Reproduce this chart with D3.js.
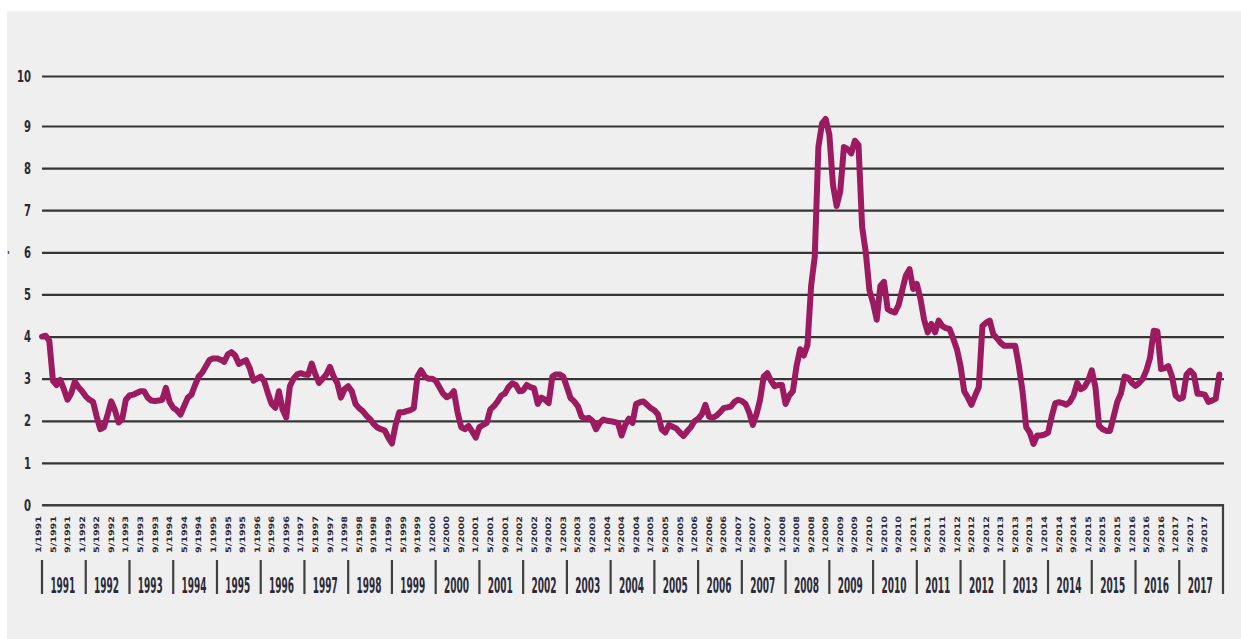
<!DOCTYPE html>
<html>
<head>
<meta charset="utf-8">
<script src="https://cdn.jsdelivr.net/npm/d3@7"></script>
<style>
  body { margin: 0; background: #fff; }
  svg { display: block; }
  text { font-family: "Liberation Sans Narrow", "DejaVu Sans Condensed", "Liberation Sans", sans-serif; fill: #2b2b38; }
</style>
</head>
<body>
<div id="chart"></div>
<script>
// Data
const years = d3.range(1991, 2018);
const tickMonths = [1, 5, 9];
const yTicks = [0, 1, 2, 3, 4, 5, 6, 7, 8, 9, 10];

// monthly values, 1/1991 .. 12/2017
const rates = [
  4.0, 4.02, 3.9, 2.95, 2.85, 2.97, 2.75, 2.5, 2.65, 2.93, 2.8, 2.7,          // 1991
  2.58, 2.5, 2.45, 2.1, 1.8, 1.85, 2.15, 2.46, 2.25, 1.96, 2.04, 2.5,        // 1992
  2.6, 2.62, 2.66, 2.7, 2.7, 2.55, 2.48, 2.47, 2.48, 2.5, 2.78, 2.45,        // 1993
  2.31, 2.25, 2.15, 2.35, 2.55, 2.62, 2.85, 3.05, 3.15, 3.3, 3.45, 3.48,     // 1994
  3.48, 3.45, 3.4, 3.58, 3.63, 3.55, 3.35, 3.4, 3.44, 3.25, 2.95, 3.0,       // 1995
  3.05, 2.93, 2.65, 2.4, 2.31, 2.7, 2.27, 2.08, 2.82, 3.0, 3.1, 3.13,        // 1996
  3.1, 3.09, 3.36, 3.1, 2.9, 3.0, 3.1, 3.28, 3.05, 2.9, 2.55, 2.75,          // 1997
  2.82, 2.7, 2.4, 2.3, 2.23, 2.12, 2.04, 1.92, 1.84, 1.8, 1.77, 1.6,         // 1998
  1.46, 1.9, 2.2, 2.2, 2.23, 2.25, 2.3, 3.05, 3.2, 3.05, 3.0, 3.0,           // 1999
  2.95, 2.8, 2.65, 2.56, 2.6, 2.7, 2.2, 1.85, 1.8, 1.88, 1.75, 1.6,          // 2000
  1.85, 1.9, 1.95, 2.27, 2.35, 2.46, 2.6, 2.65, 2.8, 2.89, 2.85, 2.7,        // 2001
  2.72, 2.85, 2.8, 2.77, 2.4, 2.55, 2.5, 2.42, 3.05, 3.1, 3.1, 3.05,         // 2002
  2.8, 2.54, 2.46, 2.35, 2.1, 2.05, 2.07, 2.0, 1.8, 1.95, 2.03, 2.0,         // 2003
  1.99, 1.97, 1.95, 1.65, 1.9, 2.05, 1.95, 2.4, 2.44, 2.46, 2.38, 2.3,       // 2004
  2.25, 2.15, 1.8, 1.72, 1.9, 1.86, 1.82, 1.72, 1.64, 1.75, 1.85, 1.99,      // 2005
  2.05, 2.15, 2.38, 2.1, 2.07, 2.12, 2.2, 2.3, 2.32, 2.34, 2.45, 2.5,        // 2006
  2.47, 2.4, 2.2, 1.9, 2.15, 2.5, 3.05, 3.13, 2.95, 2.82, 2.85, 2.85,        // 2007
  2.4, 2.6, 2.7, 3.3, 3.7, 3.55, 3.8, 5.2, 5.9, 8.5, 9.05, 9.14,             // 2008
  8.8, 7.6, 7.1, 7.45, 8.5, 8.45, 8.35, 8.65, 8.55, 6.6, 6.0, 5.1,           // 2009
  4.8, 4.4, 5.2, 5.3, 4.65, 4.6, 4.57, 4.75, 5.1, 5.45, 5.6, 5.13,           // 2010
  5.25, 4.9, 4.4, 4.1, 4.3, 4.1, 4.38, 4.25, 4.2, 4.18, 3.95, 3.7,           // 2011
  3.3, 2.7, 2.55, 2.38, 2.6, 2.8, 4.25, 4.33, 4.38, 4.05, 3.96, 3.85,        // 2012
  3.78, 3.78, 3.78, 3.78, 3.3, 2.7, 1.85, 1.72, 1.45, 1.65, 1.65, 1.67,      // 2013
  1.72, 2.1, 2.42, 2.44, 2.42, 2.38, 2.45, 2.6, 2.9, 2.75, 2.8, 2.95,        // 2014
  3.2, 2.8, 1.88, 1.8, 1.76, 1.76, 2.1, 2.45, 2.65, 3.05, 3.02, 2.9,         // 2015
  2.83, 2.9, 3.0, 3.2, 3.5, 4.14, 4.12, 3.23, 3.25, 3.3, 3.05, 2.6,          // 2016
  2.52, 2.55, 3.1, 3.19, 3.1, 2.64, 2.64, 2.62, 2.45, 2.48, 2.52, 3.1        // 2017
];

// Configuration
const W = 1241, H = 639;
const left = 42, right = 1223, gridRight = 1224;
const lineColor = "#9c1b60";

const svg = d3.select("#chart").append("svg")
  .attr("width", W)
  .attr("height", H);

// grey panel
svg.append("rect")
  .attr("x", 7).attr("y", 11)
  .attr("width", W - 7).attr("height", H - 11)
  .attr("fill", "#efefef");

// Scales
const x = d3.scaleLinear().domain([0, years.length * 12]).range([left, right]);
// the top step in the original is a bit taller than the others
const y = d3.scaleLinear().domain([0, 9, 10]).range([505, 126, 76]);

// y axis with full-width grid
const yAxis = svg.append("g")
  .attr("transform", `translate(${left},0)`)
  .call(d3.axisLeft(y).tickValues(yTicks).tickSize(-(gridRight - left)).tickPadding(11));

yAxis.select(".domain").remove();
yAxis.selectAll(".tick line")
  .attr("stroke", "#353535")
  .attr("stroke-width", 2.2);
yAxis.selectAll(".tick text")
  .attr("font-size", 16)
  .attr("font-weight", "bold")
  .attr("fill", "#2b2b38")
  .attr("textLength", d => d >= 10 ? 14 : 7)
  .attr("lengthAdjust", "spacingAndGlyphs");

// stray mark left of the axis
svg.append("text")
  .attr("x", 7)
  .attr("y", 259)
  .attr("font-size", 10)
  .attr("font-weight", "bold")
  .text("'");

// right edge of x axis frame
svg.append("path")
  .attr("d", `M${x(0)},${y(0)}H${right}V594`)
  .attr("fill", "none")
  .attr("stroke", "#3f3f3f")
  .attr("stroke-width", 2.2);

// month tick labels (1/, 5/, 9/ of each year)
const monthTicks = [];
years.forEach((yr, k) => {
  tickMonths.forEach(m => monthTicks.push({ idx: k * 12 + m - 1, label: `${m}/${yr}` }));
});

svg.append("g")
  .selectAll("text")
  .data(monthTicks)
  .enter()
  .append("text")
  .attr("transform", d => `translate(${x(d.idx) - 1},553) rotate(-90)`)
  .attr("font-size", 7.5)
  .attr("font-weight", "bold")
  .attr("textLength", 37)
  .attr("lengthAdjust", "spacingAndGlyphs")
  .text(d => d.label);

// year separators and labels
const yearG = svg.append("g");
yearG.selectAll("line")
  .data(years)
  .enter()
  .append("line")
  .attr("x1", (d, k) => x(k * 12))
  .attr("x2", (d, k) => x(k * 12))
  .attr("y1", 560)
  .attr("y2", 594)
  .attr("stroke", "#3f3f3f")
  .attr("stroke-width", 2.2);

// tall narrow year labels: smaller font stretched vertically
yearG.selectAll("text")
  .data(years)
  .enter()
  .append("text")
  .attr("transform", (d, k) => `translate(${x(k * 12 + 6) - 1},593) scale(1,1.2)`)
  .attr("text-anchor", "middle")
  .attr("font-size", 17)
  .attr("font-weight", "bold")
  .attr("textLength", 25)
  .attr("lengthAdjust", "spacingAndGlyphs")
  .text(d => d);

// the series
const line = d3.line()
  .x((d, i) => x(i))
  .y(d => y(d));

svg.append("path")
  .datum(rates)
  .attr("d", line)
  .attr("fill", "none")
  .attr("stroke", lineColor)
  .attr("stroke-width", 6)
  .attr("stroke-linejoin", "round")
  .attr("stroke-linecap", "round");
</script>
</body>
</html>
